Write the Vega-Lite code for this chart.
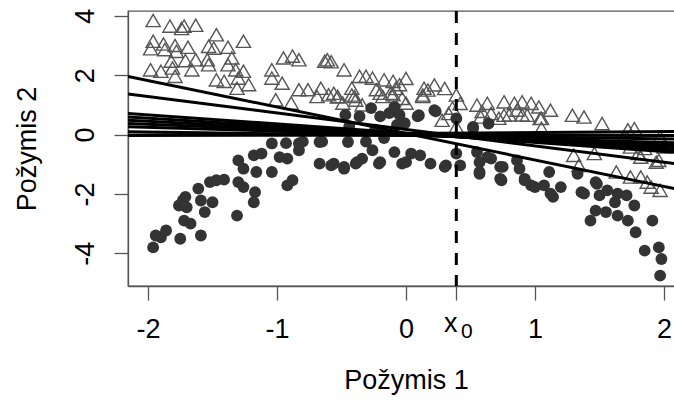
{
  "$schema": "https://vega.github.io/schema/vega-lite/v6.json",
  "width": 556,
  "height": 275,
  "autosize": {"type": "none"},
  "padding": {"left": 128, "top": 11, "right": 0, "bottom": 120},
  "background": "white",
  "config": {
    "view": {"stroke": "#555", "strokeWidth": 1.3},
    "font": "Liberation Sans",
    "axis": {
      "grid": false,
      "domainColor": "#555",
      "domainWidth": 1.3,
      "tickColor": "#555",
      "tickWidth": 1.3,
      "tickSize": 14,
      "labelFont": "Liberation Sans",
      "labelFontSize": 27,
      "labelColor": "black",
      "titleFont": "Liberation Sans",
      "titleFontSize": 27,
      "titleFontWeight": "normal",
      "titleColor": "black"
    }
  },
  "datasets": {
    "tri": [
      {"x":-1.96,"y":3.84},{"x":-1.83,"y":3.65},{"x":-1.74,"y":3.57},{"x":-1.72,"y":3.65},{"x":-1.63,"y":3.68},{"x":-1.47,"y":3.36},{"x":-1.26,"y":3.14},{"x":-1.96,"y":3.14},{"x":-1.98,"y":2.89},{"x":-1.88,"y":3.05},{"x":-1.87,"y":2.86},{"x":-1.79,"y":3.0},{"x":-1.78,"y":2.8},{"x":-1.69,"y":2.94},{"x":-1.53,"y":2.97},{"x":-1.49,"y":2.91},{"x":-1.38,"y":2.94},{"x":-1.71,"y":2.49},{"x":-1.63,"y":2.52},{"x":-1.54,"y":2.52},{"x":-1.82,"y":2.47},{"x":-1.35,"y":2.58},{"x":-1.81,"y":2.24},{"x":-1.66,"y":2.18},{"x":-1.53,"y":2.35},{"x":-1.98,"y":2.18},{"x":-1.9,"y":2.13},{"x":-1.79,"y":1.96},{"x":-1.38,"y":2.35},{"x":-1.32,"y":2.18},{"x":-1.26,"y":2.13},{"x":-1.47,"y":1.84},{"x":-1.41,"y":1.79},{"x":-1.3,"y":1.9},{"x":-1.22,"y":1.68},{"x":-1.31,"y":1.56},
      {"x":-0.88,"y":2.64},{"x":-0.95,"y":2.58},{"x":-0.83,"y":2.52},{"x":-0.63,"y":2.47},{"x":-0.61,"y":2.52},{"x":-0.48,"y":2.18},{"x":-1.04,"y":2.18},{"x":-1.04,"y":1.9},{"x":-0.96,"y":1.73},{"x":-0.83,"y":1.51},{"x":-0.76,"y":1.51},{"x":-0.66,"y":1.56},{"x":-0.69,"y":1.28},{"x":-0.6,"y":1.34},{"x":-0.53,"y":1.28},{"x":-1.01,"y":1.17},{"x":-0.89,"y":1.06},{"x":-0.4,"y":1.28},{"x":-0.36,"y":1.96},{"x":-0.31,"y":1.96},{"x":-0.26,"y":1.9},{"x":-0.17,"y":1.84},{"x":-0.1,"y":1.79},{"x":-0.23,"y":1.51},{"x":-0.42,"y":1.56},{"x":-0.18,"y":1.28},{"x":-0.1,"y":1.34},{"x":-0.34,"y":1.0},{"x":-0.49,"y":1.06},{"x":-0.05,"y":1.68},
      {"x":-0.58,"y":2.45},{"x":0.0,"y":1.89},{"x":0.22,"y":1.67},{"x":0.3,"y":1.55},{"x":0.39,"y":1.33},{"x":0.42,"y":1.05},{"x":0.55,"y":0.99},{"x":0.63,"y":1.05},{"x":0.76,"y":1.1},{"x":0.84,"y":1.05},{"x":0.9,"y":1.1},{"x":0.97,"y":1.05},{"x":1.03,"y":0.93},{"x":1.12,"y":0.82},{"x":1.29,"y":0.65},{"x":1.38,"y":0.59},{"x":1.52,"y":0.37},{"x":1.77,"y":0.2},{"x":1.97,"y":-0.08},{"x":1.63,"y":-1.26},{"x":1.74,"y":-1.43},{"x":1.82,"y":-1.43},{"x":1.97,"y":-1.88},{"x":1.9,"y":-1.77},{"x":0.66,"y":0.71},{"x":0.76,"y":0.65},{"x":0.86,"y":0.82},{"x":0.94,"y":0.65},{"x":1.04,"y":0.54},{"x":0.58,"y":0.59},{"x":-0.56,"y":1.39},{"x":-0.53,"y":1.27},{"x":-0.42,"y":1.33},{"x":-0.39,"y":1.16},{"x":-0.2,"y":1.39},{"x":-0.12,"y":1.39},{"x":-0.08,"y":1.55},{"x":-0.03,"y":1.22},{"x":0.13,"y":1.33},{"x":0.17,"y":1.5},{"x":0.33,"y":0.71},{"x":0.28,"y":0.48},{"x":0.39,"y":0.26},{"x":1.69,"y":-0.08},{"x":1.85,"y":-0.47},{"x":1.82,"y":-0.76},{"x":1.96,"y":-0.87},{"x":1.74,"y":-0.42},{"x":2.0,"y":-0.42},
      {"x":1.05,"y":0.21},{"x":1.72,"y":0.16},{"x":1.05,"y":0.55},{"x":1.46,"y":-0.64},{"x":1.8,"y":-0.64},{"x":1.94,"y":-0.93},{"x":1.34,"y":-1.04},{"x":1.3,"y":-0.7},{"x":1.87,"y":-1.6},
      {"x":0.14,"y":1.56},{"x":0.36,"y":0.89},{"x":0.59,"y":0.78},{"x":0.8,"y":0.66},{"x":0.72,"y":0.55},{"x":0.9,"y":0.66},{"x":0.0,"y":1.06},{"x":0.13,"y":1.28}
    ],
    "dot": [
      {"x":-1.96,"y":-3.8},{"x":-1.94,"y":-3.4},{"x":-1.9,"y":-3.46},{"x":-1.86,"y":-3.23},{"x":-1.75,"y":-3.51},{"x":-1.59,"y":-3.4},{"x":-1.72,"y":-2.9},{"x":-1.67,"y":-3.0},{"x":-1.76,"y":-2.39},{"x":-1.71,"y":-2.1},{"x":-1.7,"y":-2.45},{"x":-1.61,"y":-1.82},{"x":-1.59,"y":-2.22},{"x":-1.56,"y":-2.61},{"x":-1.5,"y":-2.28},{"x":-1.52,"y":-1.6},{"x":-1.47,"y":-1.54},{"x":-1.41,"y":-1.52},{"x":-1.31,"y":-2.73},{"x":-1.3,"y":-1.6},{"x":-1.26,"y":-1.77},{"x":-1.17,"y":-1.94},{"x":-1.18,"y":-2.28},{"x":-1.3,"y":-0.87},{"x":-1.26,"y":-1.15},{"x":-1.16,"y":-1.26},{"x":-1.18,"y":-0.7},{"x":-1.12,"y":-0.64},{"x":-1.73,"y":-2.22},
      {"x":-1.04,"y":-1.26},{"x":-0.92,"y":-1.71},{"x":-0.88,"y":-1.54},{"x":-0.98,"y":-0.76},{"x":-0.92,"y":-0.81},{"x":-0.83,"y":-0.53},{"x":-0.67,"y":-0.98},{"x":-0.58,"y":-1.04},{"x":-0.48,"y":-1.15},{"x":-0.39,"y":-0.98},{"x":-0.34,"y":-0.81},{"x":-0.26,"y":-0.53},{"x":-0.2,"y":-0.93},{"x":-0.09,"y":-0.59},{"x":-0.03,"y":-0.98},{"x":-0.45,"y":-0.25},{"x":-0.67,"y":-0.25},{"x":-1.04,"y":-0.3},{"x":-0.83,"y":-0.3},
      {"x":-0.47,"y":0.66},{"x":-0.36,"y":0.61},{"x":-0.27,"y":0.89},{"x":-0.2,"y":0.61},{"x":-0.13,"y":0.72},{"x":-0.05,"y":0.66},{"x":-0.07,"y":0.32},{"x":-0.24,"y":0.16},{"x":-0.44,"y":0.27},{"x":-0.93,"y":-0.29},{"x":-0.8,"y":-0.24},{"x":-0.65,"y":-0.24},{"x":-0.31,"y":-0.24},{"x":-0.17,"y":-0.12},
      {"x":-0.09,"y":0.93},{"x":0.22,"y":0.82},{"x":0.1,"y":0.65},{"x":0.39,"y":0.54},{"x":0.52,"y":0.26},{"x":0.64,"y":0.37},{"x":0.04,"y":-0.64},{"x":0.11,"y":-0.7},{"x":0.19,"y":-0.98},{"x":0.31,"y":-1.04},{"x":0.39,"y":-0.64},{"x":0.42,"y":-1.04},{"x":0.55,"y":-0.59},{"x":0.57,"y":-1.26},{"x":0.63,"y":-0.76},{"x":0.73,"y":-1.09},{"x":0.73,"y":-1.49},{"x":0.86,"y":-0.87},{"x":0.92,"y":-1.54},{"x":0.97,"y":-1.71},{"x":1.07,"y":-1.71},{"x":1.12,"y":-1.99},{"x":1.2,"y":-1.77},{"x":1.33,"y":-1.32},{"x":1.38,"y":-1.99},{"x":1.48,"y":-1.66},{"x":1.64,"y":-1.99},{"x":-0.56,"y":-0.98},{"x":-0.48,"y":-1.09},{"x":-0.38,"y":-0.93},{"x":-0.21,"y":-0.98},
      {"x":1.11,"y":-1.26},{"x":1.14,"y":-2.1},{"x":1.36,"y":-1.94},{"x":1.47,"y":-1.6},{"x":1.5,"y":-2.05},{"x":1.56,"y":-1.88},{"x":1.43,"y":-2.9},{"x":1.47,"y":-2.56},{"x":1.55,"y":-2.61},{"x":1.62,"y":-2.28},{"x":1.64,"y":-2.73},{"x":1.71,"y":-2.05},{"x":1.72,"y":-2.9},{"x":1.77,"y":-2.39},{"x":1.78,"y":-3.29},{"x":1.91,"y":-2.9},{"x":1.85,"y":-3.91},{"x":1.96,"y":-3.8},{"x":1.98,"y":-4.19},{"x":1.97,"y":-4.75},
      {"x":0.3,"y":-1.09},{"x":0.57,"y":-0.93},{"x":0.57,"y":-1.32},{"x":0.66,"y":-0.81},{"x":0.75,"y":-1.09},{"x":0.74,"y":-1.54},{"x":0.88,"y":-1.15},{"x":0.92,"y":-1.49},{"x":1.0,"y":-1.77},{"x":0.0,"y":-0.93},{"x":0.09,"y":0.61},{"x":0.23,"y":0.78},{"x":-0.01,"y":0.38},{"x":0.52,"y":0.21}
    ],
    "lines": [
      {"id":1,"x":-2.155,"y":1.954},{"id":1,"x":2.155,"y":-1.884},
      {"id":2,"x":-2.155,"y":1.363},{"id":2,"x":2.155,"y":-1.02},
      {"id":3,"x":-2.155,"y":0.712},{"id":3,"x":2.155,"y":-0.622},
      {"id":4,"x":-2.155,"y":0.591},{"id":4,"x":2.155,"y":-0.539},
      {"id":5,"x":-2.155,"y":0.481},{"id":5,"x":2.155,"y":-0.455},
      {"id":6,"x":-2.155,"y":0.371},{"id":6,"x":2.155,"y":-0.373},
      {"id":7,"x":-2.155,"y":0.261},{"id":7,"x":2.155,"y":-0.289},
      {"id":8,"x":-2.155,"y":0.09},{"id":8,"x":2.155,"y":-0.154},
      {"id":9,"x":-2.155,"y":-0.02},{"id":9,"x":2.155,"y":-0.03},
      {"id":10,"x":-2.155,"y":-0.03},{"id":10,"x":2.155,"y":0.102}
    ],
    "cut": [{"x": 0.39}]
  },
  "encoding": {
    "x": {"type": "quantitative", "scale": {"domain": [-2.155, 2.155], "nice": false, "zero": false}},
    "y": {"type": "quantitative", "scale": {"domain": [-5.1, 4.16], "nice": false, "zero": false}}
  },
  "layer": [
    {
      "data": {"name": "tri"},
      "mark": {"type": "point", "shape": "triangle-up", "filled": false, "stroke": "#555", "strokeWidth": 1.4, "size": 200, "opacity": 1},
      "encoding": {
        "x": {"field": "x", "type": "quantitative", "axis": {
          "title": "Požymis 1",
          "values": [-2, -1, 0, 0.39, 1, 2],
          "labelExpr": "datum.value == 0.39 ? '' : '' + datum.value",
          "labelPadding": 16,
          "titlePadding": 25
        }},
        "y": {"field": "y", "type": "quantitative", "axis": {
          "title": "Požymis 2",
          "values": [-4, -2, 0, 2, 4],
          "labelExpr": "'' + datum.value",
          "labelAngle": -90,
          "labelAlign": "center",
          "labelBaseline": "alphabetic",
          "labelPadding": 21,
          "titlePadding": 30
        }}
      }
    },
    {
      "data": {"name": "dot"},
      "mark": {"type": "point", "shape": "circle", "filled": true, "fill": "#333", "size": 140, "opacity": 1, "strokeWidth": 0},
      "encoding": {
        "x": {"field": "x", "type": "quantitative"},
        "y": {"field": "y", "type": "quantitative"}
      }
    },
    {
      "data": {"name": "lines"},
      "mark": {"type": "line", "color": "black", "strokeWidth": 3, "clip": true},
      "encoding": {
        "x": {"field": "x", "type": "quantitative"},
        "y": {"field": "y", "type": "quantitative"},
        "detail": {"field": "id", "type": "nominal"}
      }
    },
    {
      "data": {"name": "cut"},
      "mark": {"type": "rule", "color": "black", "strokeWidth": 3, "strokeDash": [12, 10]},
      "encoding": {"x": {"field": "x", "type": "quantitative"}}
    },
    {
      "data": {"values": [{"x": 0.39, "y": -5.1, "t": "x"}]},
      "mark": {"type": "text", "font": "Liberation Sans", "fontSize": 27, "align": "center", "baseline": "alphabetic", "dx": -5.5, "dy": 46, "color": "black"},
      "encoding": {
        "x": {"field": "x", "type": "quantitative"},
        "y": {"field": "y", "type": "quantitative"},
        "text": {"field": "t"}
      }
    },
    {
      "data": {"values": [{"x": 0.39, "y": -5.1, "t": "0"}]},
      "mark": {"type": "text", "font": "Liberation Sans", "fontSize": 21, "align": "center", "baseline": "alphabetic", "dx": 10.5, "dy": 52, "color": "black"},
      "encoding": {
        "x": {"field": "x", "type": "quantitative"},
        "y": {"field": "y", "type": "quantitative"},
        "text": {"field": "t"}
      }
    }
  ]
}
